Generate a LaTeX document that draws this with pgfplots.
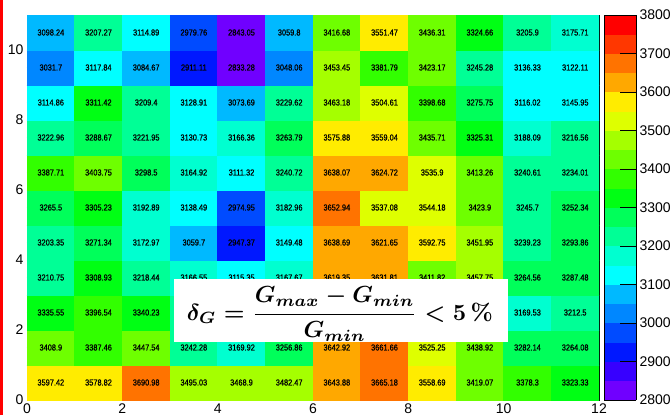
\documentclass[border=0pt]{standalone}
\usepackage[no-math]{fontspec}
\setmainfont{Liberation Sans}
\newfontfamily\cellfont[FakeStretch=0.85, FakeBold=0.6]{Liberation Sans}
\usepackage{amsmath}
\usepackage{graphicx}
\usepackage{pgfplots}
\usepackage{pgfplotstable}
\pgfplotsset{compat=1.18}

\pgfplotstableread{
x y z
0.5 0.5 3597.42
1.5 0.5 3578.82
2.5 0.5 3690.98
3.5 0.5 3495.03
4.5 0.5 3468.9
5.5 0.5 3482.47
6.5 0.5 3643.88
7.5 0.5 3665.18
8.5 0.5 3558.69
9.5 0.5 3419.07
10.5 0.5 3378.3
11.5 0.5 3323.33
0.5 1.5 3408.9
1.5 1.5 3387.46
2.5 1.5 3447.54
3.5 1.5 3242.28
4.5 1.5 3169.92
5.5 1.5 3256.86
6.5 1.5 3642.92
7.5 1.5 3661.66
8.5 1.5 3525.25
9.5 1.5 3438.92
10.5 1.5 3282.14
11.5 1.5 3264.08
0.5 2.5 3335.55
1.5 2.5 3396.54
2.5 2.5 3340.23
3.5 2.5 3201.47
4.5 2.5 3142.36
5.5 2.5 3212.58
6.5 2.5 3631.24
7.5 2.5 3645.77
8.5 2.5 3478.63
9.5 2.5 3421.85
10.5 2.5 3169.53
11.5 2.5 3212.5
0.5 3.5 3210.75
1.5 3.5 3308.93
2.5 3.5 3218.44
3.5 3.5 3166.55
4.5 3.5 3115.35
5.5 3.5 3167.67
6.5 3.5 3619.35
7.5 3.5 3631.81
8.5 3.5 3411.82
9.5 3.5 3457.75
10.5 3.5 3264.56
11.5 3.5 3287.48
0.5 4.5 3203.35
1.5 4.5 3271.34
2.5 4.5 3172.97
3.5 4.5 3059.7
4.5 4.5 2947.37
5.5 4.5 3149.48
6.5 4.5 3638.69
7.5 4.5 3621.65
8.5 4.5 3592.75
9.5 4.5 3451.95
10.5 4.5 3239.23
11.5 4.5 3293.86
0.5 5.5 3265.5
1.5 5.5 3305.23
2.5 5.5 3192.89
3.5 5.5 3138.49
4.5 5.5 2974.95
5.5 5.5 3182.96
6.5 5.5 3652.94
7.5 5.5 3537.08
8.5 5.5 3544.18
9.5 5.5 3423.9
10.5 5.5 3245.7
11.5 5.5 3252.34
0.5 6.5 3387.71
1.5 6.5 3403.75
2.5 6.5 3298.5
3.5 6.5 3164.92
4.5 6.5 3111.32
5.5 6.5 3240.72
6.5 6.5 3638.07
7.5 6.5 3624.72
8.5 6.5 3535.9
9.5 6.5 3413.26
10.5 6.5 3240.61
11.5 6.5 3234.01
0.5 7.5 3222.96
1.5 7.5 3288.67
2.5 7.5 3221.95
3.5 7.5 3130.73
4.5 7.5 3166.36
5.5 7.5 3263.79
6.5 7.5 3575.88
7.5 7.5 3559.04
8.5 7.5 3435.71
9.5 7.5 3325.31
10.5 7.5 3188.09
11.5 7.5 3216.56
0.5 8.5 3114.86
1.5 8.5 3311.42
2.5 8.5 3209.4
3.5 8.5 3128.91
4.5 8.5 3073.69
5.5 8.5 3229.62
6.5 8.5 3463.18
7.5 8.5 3504.61
8.5 8.5 3398.68
9.5 8.5 3275.75
10.5 8.5 3116.02
11.5 8.5 3145.95
0.5 9.5 3031.7
1.5 9.5 3117.84
2.5 9.5 3084.67
3.5 9.5 2911.11
4.5 9.5 2833.28
5.5 9.5 3048.06
6.5 9.5 3453.45
7.5 9.5 3381.79
8.5 9.5 3423.17
9.5 9.5 3245.28
10.5 9.5 3136.33
11.5 9.5 3122.11
0.5 10.5 3098.24
1.5 10.5 3207.27
2.5 10.5 3114.89
3.5 10.5 2979.76
4.5 10.5 2843.05
5.5 10.5 3059.8
6.5 10.5 3416.68
7.5 10.5 3551.47
8.5 10.5 3436.31
9.5 10.5 3324.66
10.5 10.5 3205.9
11.5 10.5 3175.71
}\datatable

\begin{document}
\begin{tikzpicture}
\begin{axis}[
  at={(27pt,15pt)}, anchor=south west,
  scale only axis, width=572pt, height=385pt,
  xmin=0, xmax=12, ymin=0, ymax=11,
  xtick={0,2,...,12}, ytick={0,2,...,10},
  minor x tick num=3, minor y tick num=3,
  extra x ticks={1,3,5,7,9,11}, extra y ticks={1,3,5,7,9},
  extra x tick labels={}, extra y tick labels={},
  extra tick style={major tick length=9pt},
  tick align=inside, xtick pos=bottom, ytick pos=left,
  major tick length=14pt, minor tick length=5pt,
  tick style={black, line width=0.8pt},
  axis line style={black, line width=0.8pt},
  ticklabel style={font=\fontsize{14}{14}\selectfont},
  /pgf/number format/assume math mode=true,
  colormap access=piecewise constant,
  colormap={rootrb}{
    rgb255=(112,0,255) rgb255=(55,0,255) rgb255=(0,24,255) rgb255=(0,75,255)
    rgb255=(0,135,255) rgb255=(0,185,255) rgb255=(0,255,255) rgb255=(0,255,208)
    rgb255=(0,255,150) rgb255=(0,255,90) rgb255=(0,255,20) rgb255=(50,255,0)
    rgb255=(110,255,0) rgb255=(165,255,0) rgb255=(222,255,0) rgb255=(255,236,0)
    rgb255=(255,168,0) rgb255=(255,115,0) rgb255=(255,55,0) rgb255=(255,0,0)},
  point meta min=2800, point meta max=3800,
  colorbar,
  colorbar style={
    at={(parent axis.north east)}, anchor=north west, xshift=-3.5pt,
    scale only axis, width=32pt, height=385pt,
    ytick={2800,2900,...,3800},
    scaled y ticks=false,
    tick align=inside, ytick pos=right, yticklabel pos=right,
    major tick length=16pt,
    tick style={black, line width=0.8pt},
    axis line style={black, line width=0.8pt},
    yticklabel style={font=\fontsize{14}{14}\selectfont},
    /pgf/number format/assume math mode=true,
    /pgf/number format/1000 sep={},
  },
]
\addplot[matrix plot*, mesh/cols=12, point meta=explicit] table[x=x, y=y, meta=z] {\datatable};
\addplot[draw=none, nodes near coords, point meta=explicit symbolic,
  skip coords between index={27}{34},
  nodes near coords style={anchor=center, inner sep=0pt, text=black,
    font=\cellfont\fontsize{8.7}{9}\selectfont}] table[x=x, y=y, meta=z] {\datatable};
\end{axis}
\fill[white] (174pt,73pt) rectangle (508pt,136pt);
\begin{scope}
\clip (174pt,73pt) rectangle (508pt,136pt);
\node[inner sep=0pt] at (340pt,101pt) {\resizebox{306pt}{!}{\boldmath$\displaystyle \delta_G=\frac{G_{max}-G_{min}}{G_{min}} < 5\,\%$}};
\end{scope}
\draw[red, line width=2.7pt] (1.35pt,0pt) -- (1.35pt,415pt);
\pgfresetboundingbox
\path[use as bounding box] (0,0) rectangle (671pt,415pt);
\end{tikzpicture}
\end{document}
